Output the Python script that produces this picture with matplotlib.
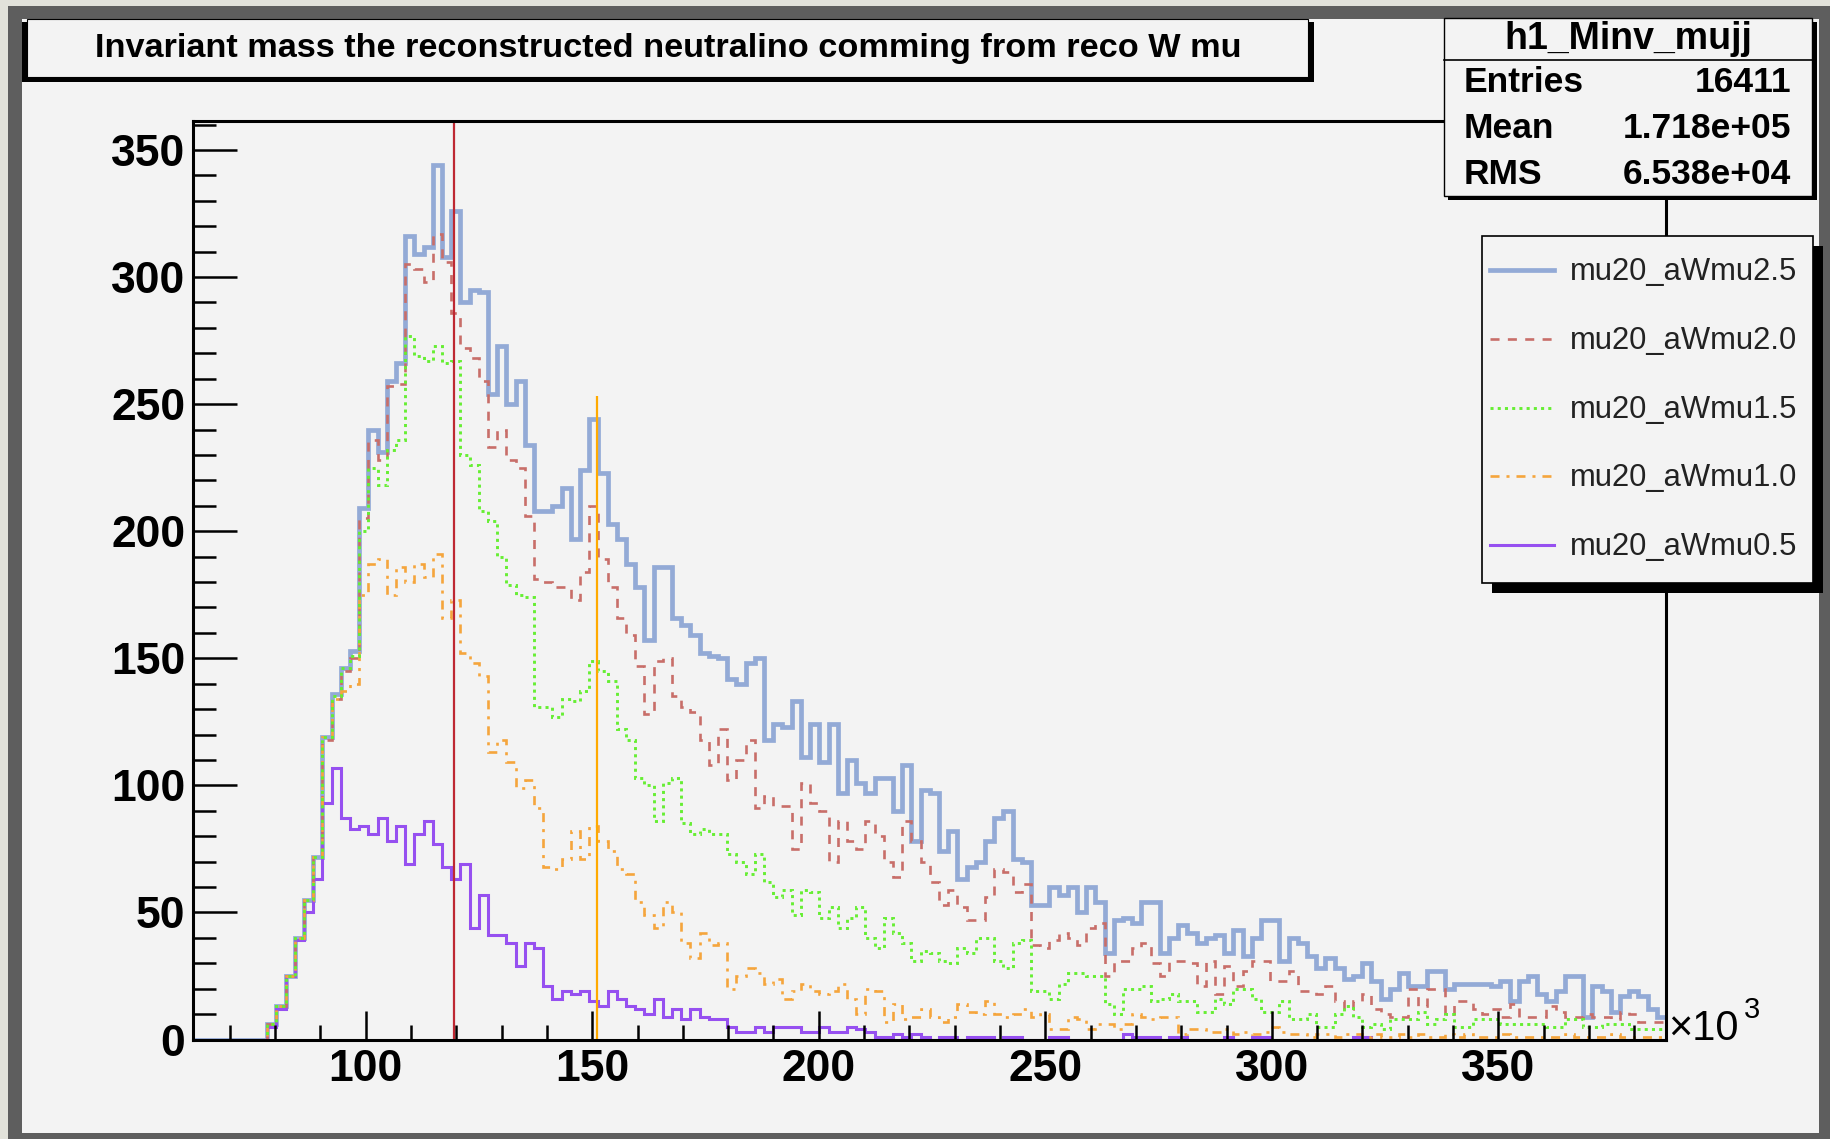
import numpy as np
import matplotlib
matplotlib.use("Agg")
import matplotlib.pyplot as plt
from matplotlib.patches import Rectangle
from matplotlib.lines import Line2D
from matplotlib.ticker import MultipleLocator, FixedLocator

# ---------------- data ----------------
X_MIN, X_MAX = 62.0, 387.0          # x10^3
N_BINS = 160
Y_MAX = 361.4

labels = ["mu20_aWmu2.5", "mu20_aWmu2.0", "mu20_aWmu1.5", "mu20_aWmu1.0", "mu20_aWmu0.5"]

h_2p5 = [0, 0, 0, 0, 0, 0, 0, 0, 6, 13, 25, 40, 55, 72, 119, 136, 146, 153, 209, 240,
         231, 259, 266, 316, 309, 312, 344, 308, 326, 290, 295, 294, 254, 273, 250, 259, 234, 208, 208, 210,
         217, 197, 224, 244, 223, 203, 197, 187, 178, 157, 186, 186, 166, 163, 159, 152, 151, 150, 142, 140,
         148, 150, 118, 124, 123, 133, 111, 124, 109, 124, 97, 110, 101, 97, 103, 103, 90, 108, 78, 98,
         97, 74, 82, 63, 68, 70, 78, 87, 90, 71, 70, 53, 53, 60, 57, 60, 50, 60, 54, 34,
         47, 48, 46, 54, 54, 34, 40, 45, 42, 38, 40, 41, 34, 43, 33, 40, 47, 47, 31, 40,
         38, 33, 28, 32, 28, 24, 25, 30, 23, 16, 20, 26, 21, 21, 27, 27, 20, 22, 22, 22,
         22, 21, 23, 15, 23, 25, 18, 15, 19, 25, 25, 9, 21, 19, 11, 17, 19, 17, 12, 9]

h_2p0 = [0, 0, 0, 0, 0, 0, 0, 0, 6, 13, 25, 40, 55, 72, 118, 134, 145, 150, 205, 236,
         228, 257, 258, 305, 303, 298, 317, 306, 286, 272, 268, 259, 233, 240, 228, 225, 206, 181, 180, 178,
         178, 173, 184, 210, 189, 178, 166, 159, 147, 128, 149, 150, 135, 131, 129, 118, 108, 122, 102, 110,
         118, 91, 96, 92, 92, 75, 101, 93, 90, 70, 86, 78, 75, 86, 80, 70, 64, 86, 78, 70,
         62, 53, 59, 52, 47, 47, 56, 67, 66, 58, 61, 37, 36, 39, 42, 40, 37, 44, 46, 25,
         31, 31, 36, 38, 30, 25, 31, 31, 30, 21, 31, 18, 29, 21, 27, 31, 31, 23, 23, 27,
         19, 19, 18, 21, 15, 12, 15, 18, 12, 10, 9, 9, 20, 13, 20, 20, 10, 15, 15, 12,
         10, 12, 9, 14, 9, 9, 9, 13, 11, 9, 9, 10, 9, 9, 8, 11, 10, 7, 7, 7]

h_1p5 = [0, 0, 0, 0, 0, 0, 0, 0, 6, 13, 25, 40, 55, 72, 119, 135, 146, 151, 200, 225,
         218, 232, 236, 277, 269, 267, 273, 266, 267, 230, 226, 208, 204, 190, 179, 175, 174, 131, 131, 127,
         134, 133, 137, 149, 145, 141, 122, 118, 103, 100, 86, 101, 103, 85, 81, 83, 81, 81, 73, 70,
         65, 73, 62, 56, 59, 49, 59, 58, 48, 52, 44, 48, 52, 40, 36, 48, 42, 38, 31, 35,
         34, 31, 30, 36, 34, 40, 40, 31, 28, 38, 39, 19, 19, 16, 22, 26, 26, 25, 25, 14,
         10, 20, 20, 21, 15, 16, 18, 15, 15, 11, 11, 16, 14, 20, 20, 16, 11, 11, 15, 8,
         8, 10, 5, 5, 10, 13, 9, 5, 6, 4, 8, 8, 8, 11, 6, 8, 10, 5, 5, 8,
         8, 8, 6, 6, 6, 6, 6, 5, 5, 8, 8, 5, 5, 6, 6, 6, 4, 4, 4, 4]

h_1p0 = [0, 0, 0, 0, 0, 0, 0, 0, 6, 13, 25, 40, 55, 72, 119, 134, 137, 140, 175, 187,
         189, 175, 186, 180, 187, 182, 191, 166, 173, 152, 148, 143, 113, 118, 109, 99, 102, 91, 68, 67,
         71, 82, 71, 84, 78, 74, 67, 65, 54, 49, 44, 54, 50, 38, 32, 42, 37, 38, 20, 25,
         28, 26, 22, 24, 16, 19, 22, 19, 18, 19, 22, 16, 10, 20, 19, 7, 14, 8, 9, 12,
         9, 7, 9, 14, 11, 10, 15, 10, 9, 10, 12, 9, 10, 4, 4, 9, 8, 4, 6, 6,
         4, 6, 10, 9, 8, 9, 9, 2, 4, 4, 3, 3, 4, 2, 3, 2, 3, 5, 3, 2,
         2, 1, 2, 2, 1, 2, 2, 1, 2, 1, 1, 2, 1, 2, 1, 1, 2, 1, 2, 1,
         1, 1, 2, 1, 1, 1, 1, 1, 1, 2, 1, 1, 1, 1, 2, 1, 1, 1, 1, 1]

h_0p5 = [0, 0, 0, 0, 0, 0, 0, 0, 5, 12, 25, 39, 50, 63, 93, 107, 87, 83, 84, 81,
         87, 78, 84, 69, 81, 86, 77, 68, 63, 69, 44, 57, 41, 41, 38, 29, 38, 36, 21, 16,
         19, 18, 19, 15, 13, 19, 16, 13, 12, 10, 16, 9, 12, 8, 12, 9, 8, 8, 5, 3,
         3, 5, 3, 5, 5, 5, 3, 3, 5, 3, 3, 5, 4, 3, 1, 1, 2, 1, 2, 1,
         0, 1, 1, 0, 1, 1, 1, 0, 1, 1, 0, 0, 0, 1, 1, 0, 0, 0, 0, 0,
         0, 2, 1, 1, 1, 0, 1, 1, 0, 0, 0, 0, 1, 0, 0, 1, 1, 0, 0, 0,
         0, 0, 0, 0, 0, 0, 1, 1, 0, 0, 0, 0, 0, 0, 0, 0, 0, 0, 0, 0,
         0, 0, 0, 0, 0, 0, 0, 0, 0, 0, 0, 0, 0, 0, 0, 0, 0, 0, 0, 0]

RED_LINE_X = 119.5
ORANGE_LINE_X = 151.0
ORANGE_LINE_TOP = 253.0

x_ticks = [100, 150, 200, 250, 300, 350]
y_ticks = [0, 50, 100, 150, 200, 250, 300, 350]

title_text = "Invariant mass the reconstructed neutralino comming from reco W mu"
stats_name = "h1_Minv_mujj"
stats_keys = ["Entries", "Mean", "RMS"]
stats_vals = ["16411", "1.718e+05", "6.538e+04"]

# ---------------- style ----------------
plt.rcParams['font.family'] = ['Liberation Sans', 'DejaVu Sans']
plt.rcParams['lines.scale_dashes'] = False

W, H = 1831, 1139
BG = '#f3f3f3'
fig = plt.figure(figsize=(W / 100, H / 100), dpi=100)
fig.patch.set_facecolor(BG)


def rect_px(x0, y0, x1, y1, **kw):
    r = Rectangle((x0 / W, 1 - y1 / H), (x1 - x0) / W, (y1 - y0) / H,
                  transform=fig.transFigure, **kw)
    fig.add_artist(r)
    return r


def text_px(x, y, s, **kw):
    return fig.text(x / W, 1 - y / H, s, **kw)


# window border
rect_px(0, 0, 8, H, facecolor='#e2e2da', edgecolor='none', zorder=0.5)
rect_px(0, 0, W, 6, facecolor='#e2e2da', edgecolor='none', zorder=0.5)
rect_px(8, 6, 22, H, facecolor='#5e5e5e', edgecolor='none', zorder=0.6)
rect_px(8, 6, W, 19, facecolor='#5e5e5e', edgecolor='none', zorder=0.6)
rect_px(1819, 6, W, H, facecolor='#5e5e5e', edgecolor='none', zorder=0.6)
rect_px(8, 1133, W, H, facecolor='#5e5e5e', edgecolor='none', zorder=0.6)

# ---------------- axes ----------------
L, R, T, B = 193.5, 1666.0, 121.0, 1039.5
ax = fig.add_axes([L / W, 1 - B / H, (R - L) / W, (B - T) / H])
ax.set_facecolor(BG)
ax.set_xlim(X_MIN, X_MAX)
ax.set_ylim(0, Y_MAX)
for side in ['left', 'right', 'top', 'bottom']:
    ax.spines[side].set_linewidth(2.2)
    ax.spines[side].set_color('black')

edges = np.linspace(X_MIN, X_MAX, N_BINS + 1)
styles = [
    dict(color='#93aad6', lw=3.4, linestyle='-'),
    dict(color='#c86e69', lw=1.9, linestyle=(0, (6.5, 6.0))),
    dict(color='#66ee33', lw=2.1, linestyle=(0, (2.2, 3.0))),
    dict(color='#f5a53c', lw=1.9, linestyle=(0, (6.5, 5.0, 2.2, 5.0))),
    dict(color='#9650f0', lw=2.2, linestyle='-'),
]
series = [h_2p5, h_2p0, h_1p5, h_1p0, h_0p5]
order = [0, 4, 1, 3, 2]
for i in order:
    ax.stairs(series[i], edges, baseline=None, **styles[i])

ax.vlines(RED_LINE_X, 0, Y_MAX, color='#be2832', lw=1.6)
ax.vlines(ORANGE_LINE_X, 0, ORANGE_LINE_TOP, color='#ffaa00', lw=1.6)

ax.xaxis.set_major_locator(FixedLocator(x_ticks))
ax.xaxis.set_minor_locator(MultipleLocator(10))
ax.yaxis.set_major_locator(FixedLocator(y_ticks))
ax.yaxis.set_minor_locator(MultipleLocator(10))
ax.set_xticklabels([str(t) for t in x_ticks], fontweight='bold', fontsize=32)
ax.set_yticklabels([str(t) for t in y_ticks], fontweight='bold', fontsize=32)
ax.tick_params(axis='y', which='major', direction='in', length=32, width=1.8, pad=6)
ax.tick_params(axis='y', which='minor', direction='in', length=16.5, width=1.8)
ax.tick_params(axis='x', which='major', direction='in', length=21, width=1.8, pad=7)
ax.tick_params(axis='x', which='minor', direction='in', length=11, width=1.8)
ax.tick_params(top=False, right=False, which='both')

# x10^3
text_px(1668, 1040, '\u00d710', fontsize=30, ha='left', va='baseline')
text_px(1744, 1018, '3', fontsize=21, ha='left', va='baseline')

# ---------------- title box ----------------
rect_px(22, 22, 1314, 82, facecolor='black', edgecolor='none', zorder=1)
rect_px(27, 19, 1308, 77, facecolor=BG, edgecolor='black', lw=0.8, zorder=1.1)
tt = text_px(668, 48, title_text, fontsize=23, fontweight='bold', ha='center', va='center', zorder=3)
fig.canvas.draw()
w = tt.get_window_extent().width
tt.set_fontsize(23 * 1147.0 / w)

# ---------------- stats box ----------------
rect_px(1448, 22, 1817, 200, facecolor='black', edgecolor='none', zorder=1)
rect_px(1444, 18, 1812, 196, facecolor=BG, edgecolor='black', lw=1.0, zorder=1.1)
fig.add_artist(Line2D([1444 / W, 1812 / W], [1 - 60 / H, 1 - 60 / H], color='black', lw=1.2,
                      transform=fig.transFigure, zorder=1.2))
text_px(1628, 39, stats_name, fontsize=27, fontweight='bold', ha='center', va='center', zorder=3)
for k, (key, val) in enumerate(zip(stats_keys, stats_vals)):
    y = 82 + k * 46.5
    text_px(1464, y, key, fontsize=25.5, fontweight='bold', ha='left', va='center', zorder=3)
    text_px(1791, y, val, fontsize=25.5, fontweight='bold', ha='right', va='center', zorder=3)

# ---------------- legend ----------------
rect_px(1492, 246, 1823, 593, facecolor='black', edgecolor='none', zorder=1)
rect_px(1482, 236, 1813, 583, facecolor=BG, edgecolor='black', lw=1.2, zorder=1.1)
for k in range(5):
    y = 270 + k * 68.8
    st = dict(styles[k])
    fig.add_artist(Line2D([1490 / W, 1554 / W], [1 - y / H, 1 - y / H],
                          transform=fig.transFigure, zorder=2, **st))
    text_px(1570, y + 2, labels[k], fontsize=22.3, color='#222222', ha='left', va='center', zorder=3)

fig.savefig('out.png', dpi=100, facecolor=BG)
